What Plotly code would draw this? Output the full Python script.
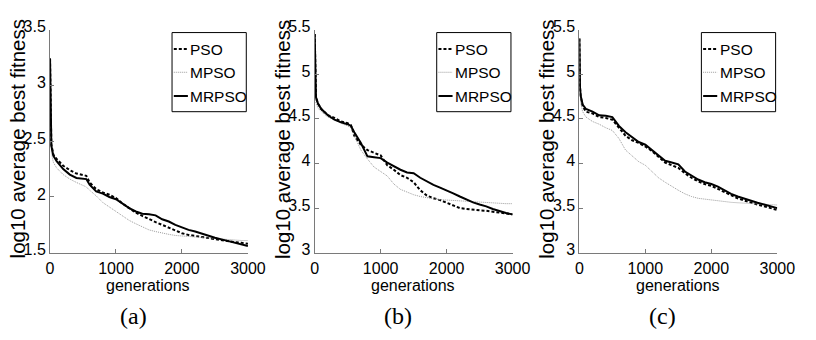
import plotly.graph_objects as go

# ---------------- data ----------------
generations = [0, 5, 10, 20, 50, 100, 200, 300, 400, 500, 550, 600, 700, 800, 900, 1000,
               1100, 1200, 1300, 1400, 1500, 1600, 1700, 1800, 1900, 2000, 2100, 2200,
               2300, 2400, 2500, 2600, 2700, 2800, 2900, 3000]

series_names = ["PSO", "MPSO", "MRPSO"]
panel_labels = ["(a)", "(b)", "(c)"]
x_tick_vals = [0, 1000, 2000, 3000]
y_ranges = [[1.5, 3.5], [3, 5.5], [3, 5.5]]
y_tick_vals = [[1.5, 2, 2.5, 3, 3.5], [3, 3.5, 4, 4.5, 5, 5.5], [3, 3.5, 4, 4.5, 5, 5.5]]

# panel (a)
a_pso = [3.24, 2.85, 2.62, 2.47, 2.38, 2.34, 2.28, 2.24, 2.21, 2.20, 2.19, 2.13, 2.07, 2.04, 2.02, 1.99,
         1.94, 1.90, 1.86, 1.83, 1.80, 1.775, 1.75, 1.725, 1.70, 1.675, 1.66, 1.65,
         1.64, 1.63, 1.62, 1.61, 1.60, 1.595, 1.59, 1.58]
a_mpso = [3.24, 2.80, 2.55, 2.40, 2.31, 2.26, 2.20, 2.16, 2.13, 2.10, 2.09, 2.06, 2.01, 1.95, 1.91, 1.87,
          1.83, 1.79, 1.76, 1.73, 1.705, 1.69, 1.675, 1.665, 1.655, 1.65, 1.645, 1.64,
          1.635, 1.63, 1.625, 1.62, 1.615, 1.61, 1.61, 1.61]
a_mrpso = [3.24, 2.85, 2.62, 2.46, 2.37, 2.32, 2.25, 2.20, 2.17, 2.16, 2.16, 2.11, 2.05, 2.03, 2.00, 1.98,
           1.94, 1.90, 1.87, 1.85, 1.845, 1.835, 1.80, 1.78, 1.75, 1.725, 1.705, 1.69,
           1.67, 1.65, 1.635, 1.62, 1.605, 1.59, 1.575, 1.56]

# panel (b)
b_pso = [5.45, 5.05, 4.88, 4.74, 4.67, 4.61, 4.54, 4.51, 4.47, 4.45, 4.43, 4.31, 4.21, 4.15, 4.12, 4.09,
         3.98, 3.93, 3.87, 3.84, 3.79, 3.70, 3.64, 3.61, 3.59, 3.56, 3.53, 3.50,
         3.49, 3.48, 3.475, 3.47, 3.46, 3.45, 3.44, 3.43]
b_mpso = [5.45, 5.00, 4.82, 4.68, 4.62, 4.58, 4.52, 4.49, 4.45, 4.42, 4.40, 4.31, 4.15, 4.05, 3.96, 3.91,
          3.86, 3.77, 3.71, 3.68, 3.65, 3.63, 3.615, 3.605, 3.595, 3.59, 3.585, 3.58,
          3.575, 3.57, 3.565, 3.56, 3.555, 3.555, 3.55, 3.55]
b_mrpso = [5.45, 5.05, 4.88, 4.74, 4.67, 4.61, 4.54, 4.49, 4.46, 4.44, 4.42, 4.35, 4.23, 4.08, 4.07, 4.06,
           4.01, 3.97, 3.93, 3.90, 3.89, 3.84, 3.80, 3.76, 3.73, 3.70, 3.665, 3.63,
           3.595, 3.565, 3.54, 3.52, 3.49, 3.465, 3.445, 3.43]

# panel (c)
c_pso = [5.40, 5.00, 4.85, 4.75, 4.64, 4.58, 4.56, 4.52, 4.51, 4.49, 4.45, 4.40, 4.31, 4.26, 4.23, 4.19,
         4.14, 4.08, 4.01, 3.98, 3.95, 3.89, 3.84, 3.80, 3.77, 3.75, 3.715, 3.68,
         3.645, 3.61, 3.585, 3.56, 3.54, 3.52, 3.50, 3.48]
c_mpso = [5.40, 4.95, 4.78, 4.68, 4.58, 4.52, 4.47, 4.44, 4.40, 4.37, 4.33, 4.28, 4.15, 4.08, 4.02, 3.98,
          3.91, 3.84, 3.79, 3.74, 3.70, 3.66, 3.63, 3.61, 3.60, 3.59, 3.58, 3.57,
          3.565, 3.56, 3.555, 3.55, 3.545, 3.54, 3.535, 3.535]
c_mrpso = [5.40, 5.00, 4.85, 4.76, 4.66, 4.61, 4.58, 4.54, 4.535, 4.52, 4.47, 4.42, 4.35, 4.29, 4.24, 4.21,
           4.15, 4.10, 4.03, 4.01, 3.99, 3.91, 3.86, 3.82, 3.79, 3.77, 3.74, 3.70,
           3.66, 3.63, 3.605, 3.58, 3.56, 3.54, 3.52, 3.50]

panels = [[a_pso, a_mpso, a_mrpso], [b_pso, b_mpso, b_mrpso], [c_pso, c_mpso, c_mrpso]]

# ---------------- styling ----------------
W, H = 816, 340
styles = [dict(color="black", width=2, dash="3px,2px"),
          dict(color="#9a9a9a", width=1, dash="1px,1px"),
          dict(color="black", width=2, dash="solid")]
AXIS_COLOR = "#7a7a7a"
SANS = "Liberation Sans, Arial, sans-serif"
SERIF = "Liberation Serif, Times New Roman, serif"

def px(xp):
    return xp / W

def py(yp):
    return 1 - yp / H

panel_offsets = [0, 272, 544]
plot_left, plot_right = 47.3, 250.7
plot_top, plot_bottom = 19.5, 254.5

fig = go.Figure()
shapes = []
annotations = []

for i, (off, data) in enumerate(zip(panel_offsets, panels)):
    xa = "x" if i == 0 else f"x{i+1}"
    ya = "y" if i == 0 else f"y{i+1}"
    for name, vals, st in zip(series_names, data, styles):
        fig.add_trace(go.Scatter(x=generations, y=vals, mode="lines", name=name,
                                 line=st, showlegend=False, xaxis=xa, yaxis=ya))
    axis_common = dict(showgrid=False, zeroline=False, showline=True, linecolor=AXIS_COLOR,
                       linewidth=1, ticks="inside", ticklen=4, tickcolor=AXIS_COLOR,
                       tickfont=dict(family=SANS, size=16, color="black"), mirror=False)
    xkey = "xaxis" if i == 0 else f"xaxis{i+1}"
    ykey = "yaxis" if i == 0 else f"yaxis{i+1}"
    fig.update_layout(**{
        xkey: dict(domain=[px(off + plot_left), px(off + plot_right)], range=[0, 3000],
                   tickvals=x_tick_vals, anchor=ya, ticklabelstandoff=1, **axis_common),
        ykey: dict(domain=[py(plot_bottom), py(plot_top)], range=y_ranges[i],
                   tickvals=y_tick_vals[i], anchor=xa, ticklabelstandoff=0,
                   ticklabelshift=-3, **axis_common),
    })
    # axis titles and caption
    annotations.append(dict(x=px(off + 148.5), y=py(289), xref="paper", yref="paper",
                            text="generations", showarrow=False, xanchor="center", yanchor="middle",
                            font=dict(family=SANS, size=16, color="black")))
    annotations.append(dict(x=px(off + 13.5), y=py(135), xref="paper", yref="paper",
                            text="log10 average best fitness", textangle=-90, showarrow=False,
                            xanchor="center", yanchor="middle",
                            font=dict(family=SANS, size=20.5, color="black")))
    annotations.append(dict(x=px(off + 133), y=py(321), xref="paper", yref="paper",
                            text=panel_labels[i], showarrow=False, xanchor="center", yanchor="middle",
                            font=dict(family=SERIF, size=24, color="black")))
    # legend box
    shapes.append(dict(type="rect", xref="paper", yref="paper",
                       x0=px(off + 172.7), x1=px(off + 249), y0=py(106), y1=py(22.7),
                       line=dict(color="black", width=1), fillcolor="white", layer="above"))
    for k, (name, st) in enumerate(zip(series_names, styles)):
        yy = [40, 64.5, 89.5][k]
        shapes.append(dict(type="line", xref="paper", yref="paper",
                           x0=px(off + 174.5), x1=px(off + 189), y0=py(yy), y1=py(yy),
                           line=st, layer="above"))
        annotations.append(dict(x=px(off + 189.5), y=py(yy), xref="paper", yref="paper",
                                text=name, showarrow=False, xanchor="left", yanchor="middle",
                                font=dict(family=SANS, size=15.5, color="black")))

fig.update_layout(width=W, height=H, autosize=False, margin=dict(l=0, r=0, t=0, b=0),
                  paper_bgcolor="white", plot_bgcolor="white", showlegend=False,
                  shapes=shapes, annotations=annotations)

fig.write_html("out.html")
